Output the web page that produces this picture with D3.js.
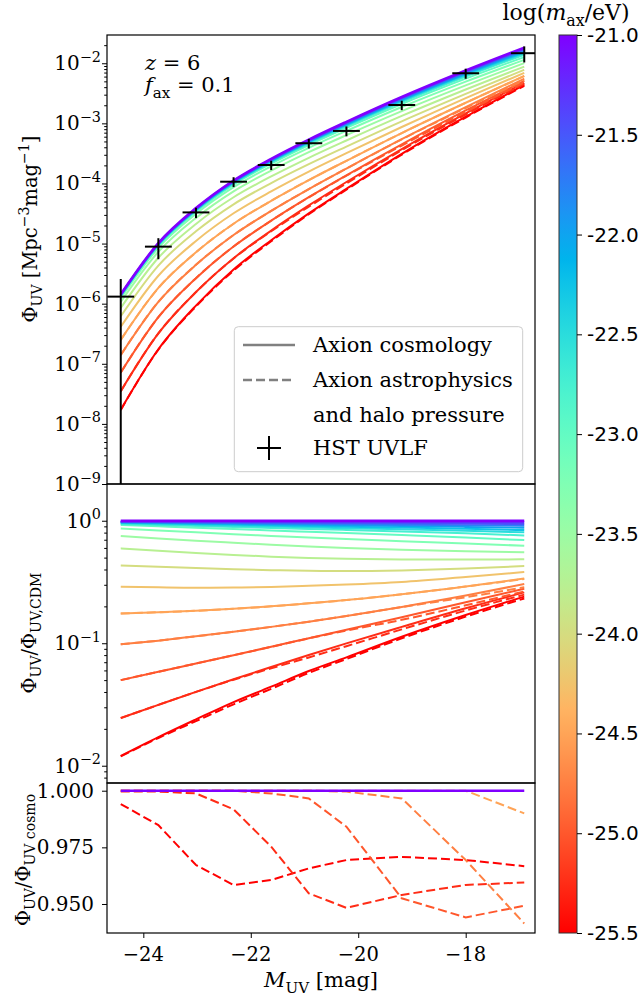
<!DOCTYPE html>
<html>
<head>
<meta charset="utf-8">
<script src="https://cdn.jsdelivr.net/npm/d3@7"></script>
<style>
  body { margin: 0; background: #fff; }
  svg { display: block; }
  text { font-family: "DejaVu Serif", serif; fill: #000; }
  .cb text { font-family: "DejaVu Sans", sans-serif; }
</style>
</head>
<body>
<svg id="chart"></svg>
<script>
// magnitudes where the curves are sampled (same as the HST bins)
let mUV = [-24.42, -23.72, -23.02, -22.32, -21.62, -20.92, -20.22, -19.19, -18.0, -16.91];

// log10(m_ax / eV) for each curve
let logMax = [-21.0, -21.25, -21.5, -21.75, -22.0, -22.25, -22.5, -22.75, -23.0,
  -23.25, -23.5, -23.75, -24.0, -24.25, -24.5, -24.75, -25.0, -25.25, -25.5];

// CDM-like luminosity function (heaviest axion)
let phiCDM = [1.43e-6, 1.02e-5, 3.89e-5, 1.12e-4, 2.57e-4, 5.37e-4, 1.06e-3, 2.75e-3, 7.59e-3, 1.82e-2];

// Phi_UV / Phi_UV,CDM for axion cosmology, one row per mass
let ratioCosmo = [
  [1, 1, 1, 1, 1, 1, 1, 1, 1, 1],
  [0.988, 0.987, 0.985, 0.984, 0.983, 0.981, 0.980, 0.978, 0.974, 0.970],
  [0.982, 0.979, 0.975, 0.971, 0.967, 0.963, 0.959, 0.954, 0.947, 0.940],
  [0.976, 0.971, 0.964, 0.957, 0.951, 0.944, 0.938, 0.929, 0.920, 0.911],
  [0.970, 0.962, 0.953, 0.944, 0.935, 0.927, 0.918, 0.906, 0.891, 0.877],
  [0.964, 0.953, 0.942, 0.931, 0.918, 0.908, 0.895, 0.879, 0.859, 0.839],
  [0.952, 0.938, 0.925, 0.910, 0.897, 0.883, 0.869, 0.851, 0.828, 0.804],
  [0.940, 0.923, 0.906, 0.889, 0.873, 0.857, 0.841, 0.818, 0.789, 0.759],
  [0.923, 0.900, 0.877, 0.855, 0.834, 0.813, 0.793, 0.764, 0.730, 0.695],
  [0.866, 0.834, 0.804, 0.776, 0.752, 0.729, 0.708, 0.681, 0.652, 0.625],
  [0.750, 0.716, 0.687, 0.661, 0.637, 0.617, 0.600, 0.581, 0.564, 0.552],
  [0.595, 0.569, 0.546, 0.526, 0.509, 0.497, 0.489, 0.483, 0.482, 0.484],
  [0.432, 0.422, 0.411, 0.402, 0.395, 0.390, 0.388, 0.393, 0.407, 0.427],
  [0.289, 0.286, 0.284, 0.285, 0.288, 0.294, 0.301, 0.316, 0.347, 0.381],
  [0.175, 0.179, 0.184, 0.191, 0.200, 0.212, 0.225, 0.251, 0.290, 0.338],
  [0.098, 0.105, 0.114, 0.124, 0.136, 0.150, 0.167, 0.198, 0.245, 0.304],
  [0.050, 0.0585, 0.0683, 0.0799, 0.0935, 0.110, 0.129, 0.163, 0.216, 0.279],
  [0.0245, 0.0314, 0.0401, 0.0508, 0.0640, 0.0802, 0.0998, 0.136, 0.193, 0.260],
  [0.0120, 0.0171, 0.0239, 0.0331, 0.0442, 0.0593, 0.0767, 0.113, 0.170, 0.240]
];

// Phi_UV(astro + halo pressure) / Phi_UV(cosmo) for the masses where it differs
let astroMax = [-24.5, -24.75, -25.0, -25.25, -25.5];
let astroRatio = [
  [1, 1, 1, 1, 1, 1, 1, 1, 1, 0.990],
  [1, 1, 1, 1, 1, 1, 0.9996, 0.9966, 0.9694, 0.9414],
  [1, 1, 1, 1, 0.9988, 0.9966, 0.9841, 0.9525, 0.9441, 0.9492],
  [0.9996, 0.9996, 0.9988, 0.9918, 0.9753, 0.9547, 0.9483, 0.9540, 0.9584, 0.9595],
  [0.9941, 0.9848, 0.9672, 0.9584, 0.9606, 0.9657, 0.9694, 0.9708, 0.9694, 0.9667]
];

// HST UV luminosity function points
let hstM = [-24.42, -23.72, -23.02, -22.32, -21.62, -20.92, -20.22, -19.19, -18.0, -16.91];
let hstPhi = [1.31e-6, 8.89e-6, 3.30e-5, 1.07e-4, 2.03e-4, 4.67e-4, 7.48e-4, 2.02e-3, 6.82e-3, 1.47e-2];
let hstErrUp = [1.27e-6, 3.4e-6, 6.5e-6, 2.0e-5, 3.6e-5, 8.5e-5, 1.4e-4, 3.6e-4, 1.3e-3, 4.4e-3];
let hstErrLo = [1.31e-6, 3.4e-6, 6.5e-6, 2.0e-5, 3.6e-5, 8.5e-5, 1.4e-4, 3.6e-4, 1.3e-3, 4.4e-3];
let hstDM = 0.25;

// ticks
let xTicks = [-24, -22, -20, -18];
let topExp = [-9, -8, -7, -6, -5, -4, -3, -2];
let midExp = [-2, -1, 0];
let botTicks = [0.95, 0.975, 1.0];
let cbTicks = [-25.5, -25.0, -24.5, -24.0, -23.5, -23.0, -22.5, -22.0, -21.5, -21.0];

let width = 642;
let height = 1002;
let left = 107;
let right = 535;

let svg = d3.select("#chart").attr("width", width).attr("height", height);

let xScale = d3.scaleLinear().domain([-24.676, -16.71]).range([left, right]);
let yTop = d3.scaleLog().domain([1e-9, Math.pow(10, -1.53)]).range([484, 35]);
let yMid = d3.scaleLog().domain([Math.pow(10, -2.141), Math.pow(10, 0.3)]).range([783, 484]);
let yBot = d3.scaleLinear().domain([0.9372, 1.0034]).range([933, 783]);
let cScale = d3.scaleLinear().domain([-25.5, -21]).range([933, 35]);

// matplotlib "rainbow", purple at -21, red at -25.5
let rainbow = (m) => {
  let t = (-21 - m) / 4.5;
  let r = Math.min(1, Math.abs(2 * t - 0.5));
  let g = Math.max(0, Math.sin(Math.PI * t));
  let b = Math.max(0, Math.cos(Math.PI * t / 2));
  return d3.rgb(r * 255, g * 255, b * 255).formatHex();
};

// rich text with sub/superscripts
let rich = (sel, parts, size) => {
  let shift = 0;
  parts.forEach((p) => {
    let target = p.sub ? 0.28 * size : p.sup ? -0.42 * size : 0;
    let ts = sel.append("tspan").attr("dy", target - shift).text(p.t);
    if (p.sub || p.sup) ts.attr("font-size", size * 0.72);
    if (p.it) ts.attr("font-style", "italic");
    shift = target;
  });
};

let defs = svg.append("defs");
let panels = [
  { id: "clipTop", y0: 35, y1: 484 },
  { id: "clipMid", y0: 484, y1: 783 },
  { id: "clipBot", y0: 783, y1: 933 }
];
panels.forEach((p) => {
  defs.append("clipPath").attr("id", p.id)
    .append("rect").attr("x", left).attr("y", p.y0)
    .attr("width", right - left).attr("height", p.y1 - p.y0);
});

let gTop = svg.append("g").attr("clip-path", "url(#clipTop)");
let gMid = svg.append("g").attr("clip-path", "url(#clipMid)");
let gBot = svg.append("g").attr("clip-path", "url(#clipBot)");

let smoothLine = (scale) => d3.line()
  .x((d, i) => xScale(mUV[i]))
  .y((d) => scale(d))
  .curve(d3.curveMonotoneX);
let straightLine = (scale) => d3.line()
  .x((d, i) => xScale(mUV[i]))
  .y((d) => scale(d));

let dash = "9,4";

// curves, lightest axion first so the purple one is on top
for (let k = logMax.length - 1; k >= 0; k--) {
  let col = rainbow(logMax[k]);
  let ratio = ratioCosmo[k];
  let phi = ratio.map((r, i) => r * phiCDM[i]);
  gTop.append("path").datum(phi).attr("d", smoothLine(yTop))
    .attr("fill", "none").attr("stroke", col).attr("stroke-width", k === 0 ? 2.6 : 2);
  gMid.append("path").datum(ratio).attr("d", smoothLine(yMid))
    .attr("fill", "none").attr("stroke", col).attr("stroke-width", k === 0 ? 2.6 : 2);
  let a = astroMax.indexOf(logMax[k]);
  if (a >= 0) {
    let ar = astroRatio[a];
    gTop.append("path").datum(phi.map((v, i) => v * ar[i])).attr("d", smoothLine(yTop))
      .attr("fill", "none").attr("stroke", col).attr("stroke-width", 2).attr("stroke-dasharray", dash);
    gMid.append("path").datum(ratio.map((v, i) => v * ar[i])).attr("d", smoothLine(yMid))
      .attr("fill", "none").attr("stroke", col).attr("stroke-width", 2).attr("stroke-dasharray", dash);
    gBot.append("path").datum(ar).attr("d", straightLine(yBot))
      .attr("fill", "none").attr("stroke", col).attr("stroke-width", 2).attr("stroke-dasharray", dash);
  }
}
// reference ratio of 1 for the heaviest mass
gBot.append("path").datum(ratioCosmo[0]).attr("d", straightLine(yBot))
  .attr("fill", "none").attr("stroke", rainbow(logMax[0])).attr("stroke-width", 2.6);

// HST points with error bars
let hst = gTop.append("g").attr("stroke", "#000").attr("stroke-width", 2);
hstM.forEach((m, i) => {
  let v = hstPhi[i];
  hst.append("line")
    .attr("x1", xScale(m - hstDM)).attr("x2", xScale(m + hstDM))
    .attr("y1", yTop(v)).attr("y2", yTop(v));
  hst.append("line")
    .attr("x1", xScale(m)).attr("x2", xScale(m))
    .attr("y1", yTop(v + hstErrUp[i])).attr("y2", yTop(Math.max(v - hstErrLo[i], 1e-12)));
});

// minor ticks for log axes
let minorTicks = (scale) => {
  let [a, b] = scale.domain();
  let out = [];
  for (let e = Math.floor(Math.log10(a)); e <= Math.ceil(Math.log10(b)); e++) {
    for (let k = 2; k <= 9; k++) {
      let v = k * Math.pow(10, e);
      if (v >= a && v <= b) out.push(v);
    }
  }
  return out;
};

let axisStyle = (g) => {
  g.select(".domain").remove();
  g.selectAll("line").attr("stroke", "#000").attr("stroke-width", 1);
};

svg.append("g").attr("transform", "translate(" + left + ",0)")
  .call(d3.axisLeft(yTop).tickValues(topExp.map((e) => Math.pow(10, e))).tickSize(5).tickFormat(""))
  .call(axisStyle);
svg.append("g").attr("transform", "translate(" + left + ",0)")
  .call(d3.axisLeft(yTop).tickValues(minorTicks(yTop)).tickSize(2.8).tickFormat(""))
  .call(axisStyle);
svg.append("g").attr("transform", "translate(" + left + ",0)")
  .call(d3.axisLeft(yMid).tickValues(midExp.map((e) => Math.pow(10, e))).tickSize(5).tickFormat(""))
  .call(axisStyle);
svg.append("g").attr("transform", "translate(" + left + ",0)")
  .call(d3.axisLeft(yMid).tickValues(minorTicks(yMid)).tickSize(2.8).tickFormat(""))
  .call(axisStyle);
svg.append("g").attr("transform", "translate(" + left + ",0)")
  .call(d3.axisLeft(yBot).tickValues(botTicks).tickSize(5).tickFormat(""))
  .call(axisStyle);
svg.append("g").attr("transform", "translate(0,933)")
  .call(d3.axisBottom(xScale).tickValues(xTicks).tickSize(5).tickFormat(""))
  .call(axisStyle);

// tick labels
let tfs = 20;
let fs = 21;
topExp.forEach((e) => {
  let t = svg.append("text").attr("x", 101).attr("y", yTop(Math.pow(10, e)) + 7)
    .attr("text-anchor", "end").attr("font-size", tfs);
  rich(t, [{ t: "10" }, { t: "−" + Math.abs(e), sup: true }], tfs);
});
midExp.forEach((e) => {
  let t = svg.append("text").attr("x", 101).attr("y", yMid(Math.pow(10, e)) + 7)
    .attr("text-anchor", "end").attr("font-size", tfs);
  rich(t, [{ t: "10" }, { t: (e < 0 ? "−" : "") + Math.abs(e), sup: true }], tfs);
});
botTicks.forEach((v) => {
  svg.append("text").attr("x", 94).attr("y", yBot(v) + 7)
    .attr("text-anchor", "end").attr("font-size", tfs).text(v.toFixed(3));
});
xTicks.forEach((v) => {
  svg.append("text").attr("x", xScale(v)).attr("y", 961)
    .attr("text-anchor", "middle").attr("font-size", 19.5).text("−" + Math.abs(v));
});

// frames
panels.forEach((p) => {
  svg.append("rect").attr("x", left).attr("y", p.y0)
    .attr("width", right - left).attr("height", p.y1 - p.y0)
    .attr("fill", "none").attr("stroke", "#000").attr("stroke-width", 1.2);
});

// axis titles
let xl = svg.append("text").attr("x", (left + right) / 2).attr("y", 987)
  .attr("text-anchor", "middle").attr("font-size", fs);
rich(xl, [{ t: "M", it: true }, { t: "UV", sub: true }, { t: " [mag]" }], fs);

let yl1 = svg.append("text").attr("transform", "translate(37,229) rotate(-90)")
  .attr("text-anchor", "middle").attr("font-size", 19.5);
rich(yl1, [{ t: "Φ" }, { t: "UV", sub: true }, { t: " [Mpc" }, { t: "−3", sup: true }, { t: "mag" }, { t: "−1", sup: true }, { t: "]" }], 19.5);

let yl2 = svg.append("text").attr("transform", "translate(36,633) rotate(-90)")
  .attr("text-anchor", "middle").attr("font-size", 19.5);
rich(yl2, [{ t: "Φ" }, { t: "UV", sub: true }, { t: "/Φ" }, { t: "UV,CDM", sub: true }], 19.5);

let yl3 = svg.append("text").attr("transform", "translate(30,860) rotate(-90)")
  .attr("text-anchor", "middle").attr("font-size", 19.5);
rich(yl3, [{ t: "Φ" }, { t: "UV", sub: true }, { t: "/Φ" }, { t: "UV cosmo", sub: true }], 19.5);

// annotation
let a1 = svg.append("text").attr("x", 145).attr("y", 70).attr("font-size", fs);
rich(a1, [{ t: "z", it: true }, { t: " = 6" }], fs);
let a2 = svg.append("text").attr("x", 145).attr("y", 92).attr("font-size", fs);
rich(a2, [{ t: "f", it: true }, { t: "ax", sub: true }, { t: " = 0.1" }], fs);

// legend
let lg = svg.append("g");
lg.append("rect").attr("x", 234.3).attr("y", 326.7).attr("width", 288.4).attr("height", 145)
  .attr("rx", 4).attr("fill", "#fff").attr("fill-opacity", 0.8)
  .attr("stroke", "#cccccc").attr("stroke-width", 1);
lg.append("line").attr("x1", 243).attr("x2", 295).attr("y1", 345).attr("y2", 345)
  .attr("stroke", "#808080").attr("stroke-width", 2.5);
lg.append("line").attr("x1", 243).attr("x2", 295).attr("y1", 380).attr("y2", 380)
  .attr("stroke", "#808080").attr("stroke-width", 2.5).attr("stroke-dasharray", dash);
lg.append("line").attr("x1", 257).attr("x2", 281).attr("y1", 448).attr("y2", 448)
  .attr("stroke", "#000").attr("stroke-width", 2);
lg.append("line").attr("x1", 269).attr("x2", 269).attr("y1", 436).attr("y2", 460)
  .attr("stroke", "#000").attr("stroke-width", 2);
[["Axion cosmology", 352], ["Axion astrophysics", 387], ["and halo pressure", 422], ["HST UVLF", 455]]
  .forEach(([s, y]) => {
    lg.append("text").attr("x", 313).attr("y", y).attr("font-size", fs).text(s);
  });

// colorbar
let grad = defs.append("linearGradient").attr("id", "cbGrad")
  .attr("x1", 0).attr("y1", 0).attr("x2", 0).attr("y2", 1);
d3.range(0, 1.0001, 0.025).forEach((t) => {
  grad.append("stop").attr("offset", t).attr("stop-color", rainbow(-21 - 4.5 * t));
});
let cb = svg.append("g").attr("class", "cb");
cb.append("rect").attr("x", 559).attr("y", 35).attr("width", 18).attr("height", 898)
  .attr("fill", "url(#cbGrad)").attr("stroke", "#333").attr("stroke-width", 1);
cb.append("g").attr("transform", "translate(577,0)")
  .call(d3.axisRight(cScale).tickValues(cbTicks).tickSize(5).tickFormat(""))
  .call(axisStyle);
cbTicks.forEach((v) => {
  cb.append("text").attr("x", 587).attr("y", cScale(v) + 7).attr("font-size", 20).text(v.toFixed(1));
});
let ct = svg.append("text").attr("x", 566).attr("y", 20).attr("text-anchor", "middle").attr("font-size", 22);
rich(ct, [{ t: "log(" }, { t: "m", it: true }, { t: "ax", sub: true }, { t: "/eV)" }], 22);
</script>
</body>
</html>
